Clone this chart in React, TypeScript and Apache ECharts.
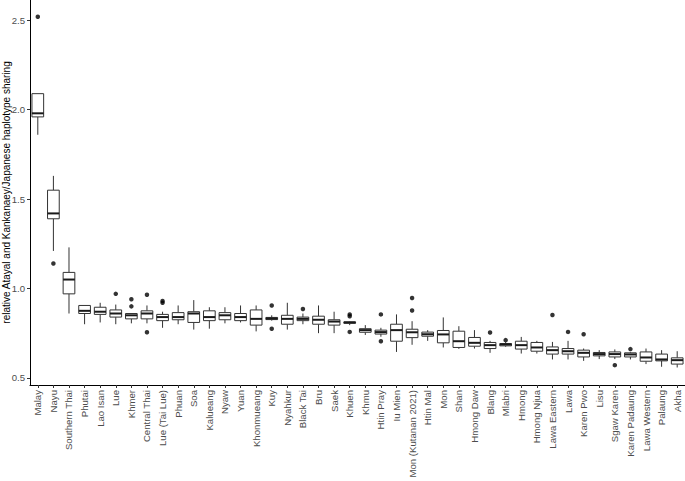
import React, { useEffect, useRef } from "react";
import * as echarts from "echarts";

const categories = [
  "Malay", "Nayu", "Southern Thai", "Phutai", "Lao Isan", "Lue", "Khmer", "Central Thai",
  "Lue (Tai Lue)", "Phuan", "Soa", "Kalueang", "Nyaw", "Yuan", "Khonmueang", "Kuy",
  "Nyahkur", "Black Tai", "Bru", "Saek", "Khuen", "Khmu", "Htin Pray", "Iu Mien",
  "Mon (Kutanan 2021)", "Htin Mal", "Mon", "Shan", "Hmong Daw", "Blang", "Mlabri", "Hmong",
  "Hmong Njua", "Lawa Eastern", "Lawa", "Karen Pwo", "Lisu", "Sgaw Karen", "Karen Padaung",
  "Lawa Western", "Palaung", "Akha",
];

const whiskerLow = [
  1.86, 1.21, 0.86, 0.80, 0.81, 0.80, 0.805, 0.805, 0.78, 0.80, 0.77, 0.775, 0.805, 0.81,
  0.76, 0.82, 0.77, 0.80, 0.75, 0.75, 0.795, 0.74, 0.73, 0.645, 0.685, 0.707, 0.67, 0.662,
  0.664, 0.64, 0.674, 0.636, 0.636, 0.603, 0.603, 0.595, 0.605, 0.605, 0.603, 0.577, 0.562, 0.558,
];
const q1 = [
  1.96, 1.39, 0.97, 0.86, 0.855, 0.84, 0.83, 0.83, 0.82, 0.825, 0.81, 0.82, 0.825, 0.82,
  0.795, 0.826, 0.80, 0.82, 0.80, 0.795, 0.805, 0.755, 0.745, 0.705, 0.725, 0.733, 0.696, 0.67,
  0.677, 0.664, 0.679, 0.661, 0.649, 0.633, 0.633, 0.617, 0.623, 0.617, 0.617, 0.593, 0.595, 0.577,
];
const medians = [
  1.98, 1.42, 1.05, 0.875, 0.87, 0.86, 0.85, 0.86, 0.84, 0.84, 0.86, 0.84, 0.85, 0.84,
  0.83, 0.832, 0.83, 0.83, 0.825, 0.815, 0.81, 0.767, 0.756, 0.767, 0.755, 0.744, 0.743, 0.705,
  0.696, 0.683, 0.687, 0.683, 0.67, 0.655, 0.649, 0.64, 0.633, 0.633, 0.631, 0.614, 0.603, 0.599,
];
const q3 = [
  2.09, 1.55, 1.09, 0.905, 0.895, 0.88, 0.86, 0.875, 0.855, 0.865, 0.87, 0.875, 0.865, 0.86,
  0.88, 0.838, 0.85, 0.84, 0.845, 0.825, 0.813, 0.775, 0.767, 0.80, 0.772, 0.756, 0.765, 0.761,
  0.726, 0.698, 0.692, 0.705, 0.698, 0.673, 0.664, 0.655, 0.642, 0.645, 0.64, 0.645, 0.633, 0.612,
];
const whiskerHigh = [
  2.09, 1.63, 1.23, 0.905, 0.92, 0.91, 0.86, 0.905, 0.87, 0.905, 0.935, 0.895, 0.895, 0.905,
  0.905, 0.85, 0.92, 0.86, 0.905, 0.87, 0.815, 0.795, 0.78, 0.855, 0.817, 0.767, 0.838, 0.789,
  0.767, 0.707, 0.70, 0.729, 0.707, 0.701, 0.707, 0.664, 0.655, 0.659, 0.645, 0.664, 0.655, 0.649,
];

const outliers: [string, number][] = [
  ["Malay", 2.52], ["Nayu", 1.14], ["Lue", 0.97], ["Khmer", 0.94], ["Khmer", 0.90],
  ["Central Thai", 0.965], ["Central Thai", 0.755], ["Lue (Tai Lue)", 0.93], ["Lue (Tai Lue)", 0.92],
  ["Kuy", 0.905], ["Kuy", 0.775], ["Black Tai", 0.885], ["Khuen", 0.855], ["Khuen", 0.845],
  ["Khuen", 0.757], ["Htin Pray", 0.855], ["Htin Pray", 0.705], ["Mon (Kutanan 2021)", 0.947],
  ["Mon (Kutanan 2021)", 0.877], ["Blang", 0.754], ["Mlabri", 0.711], ["Lawa Eastern", 0.852],
  ["Lawa", 0.757], ["Karen Pwo", 0.744], ["Sgaw Karen", 0.571], ["Karen Padaung", 0.661],
];

const yTicks = [0.5, 1.0, 1.5, 2.0, 2.5];

export default function App() {
  const ref = useRef<HTMLDivElement>(null);
  useEffect(() => {
    if (!ref.current) return;
    const chart = echarts.init(ref.current, null, { renderer: "svg" });
    const boxData = categories.map((_, i) => [
      i, whiskerLow[i], q1[i], medians[i], q3[i], whiskerHigh[i],
    ]);
    const font = "'Liberation Sans', Arial, Helvetica, sans-serif";
    chart.setOption({
      animation: false,
      backgroundColor: "#ffffff",
      grid: {
        left: 30, top: 0, width: 655, height: 385,
        containLabel: false, outerBoundsMode: "none",
      },
      xAxis: {
        type: "category",
        data: categories,
        boundaryGap: true,
        axisLine: { show: true, lineStyle: { color: "#000", width: 1 } },
        axisTick: { show: true, alignWithLabel: true, length: 3, lineStyle: { color: "#333" } },
        axisLabel: {
          interval: 0,
          rotate: 90,
          margin: 5,
          fontSize: 9.6,
          color: "#4d4d4d",
          fontFamily: font,
          hideOverlap: false,
        },
        splitLine: { show: false },
      },
      yAxis: {
        type: "value",
        min: 0.46,
        max: 2.614,
        name: "relative Atayal and Kankanaey/Japanese haplotype sharing",
        nameLocation: "middle",
        nameGap: 19,
        nameMoveOverlap: false,
        nameTextStyle: { fontSize: 10, color: "#000", fontFamily: font },
        axisLine: { show: true, lineStyle: { color: "#000", width: 1 } },
        axisTick: { show: true, length: 3, lineStyle: { color: "#333" }, customValues: yTicks },
        axisLabel: {
          margin: 5,
          fontSize: 9.6,
          color: "#4d4d4d",
          fontFamily: font,
          customValues: yTicks,
          formatter: (v: number) => v.toFixed(1),
        },
        splitLine: { show: false },
      },
      series: [
        {
          type: "custom",
          data: boxData,
          encode: { x: 0, y: [1, 2, 3, 4, 5] },
          renderItem: (params: any, api: any) => {
            const idx = api.value(0);
            const lo = api.coord([idx, api.value(1)]);
            const a = api.coord([idx, api.value(2)]);
            const m = api.coord([idx, api.value(3)]);
            const b = api.coord([idx, api.value(4)]);
            const hi = api.coord([idx, api.value(5)]);
            const band = api.size([1, 0])[0];
            const w = band * 0.75;
            const x = lo[0];
            const stroke = { stroke: "#333333", lineWidth: 1, fill: null };
            return {
              type: "group",
              children: [
                { type: "line", shape: { x1: x, y1: hi[1], x2: x, y2: b[1] }, style: stroke },
                { type: "line", shape: { x1: x, y1: a[1], x2: x, y2: lo[1] }, style: stroke },
                {
                  type: "rect",
                  shape: { x: x - w / 2, y: b[1], width: w, height: a[1] - b[1] },
                  style: { fill: "#ffffff", stroke: "#333333", lineWidth: 1 },
                },
                {
                  type: "line",
                  shape: { x1: x - w / 2, y1: m[1], x2: x + w / 2, y2: m[1] },
                  style: { stroke: "#1a1a1a", lineWidth: 2 },
                },
              ],
            };
          },
          z: 2,
        },
        {
          type: "scatter",
          data: outliers,
          symbol: "circle",
          symbolSize: 4.5,
          itemStyle: { color: "#000" },
          z: 3,
        },
      ],
    });
    return () => chart.dispose();
  }, []);
  return (
    <div
      ref={ref}
      style={{ position: "fixed", left: 0, top: 0, width: 685, height: 481, background: "#fff" }}
    />
  );
}
